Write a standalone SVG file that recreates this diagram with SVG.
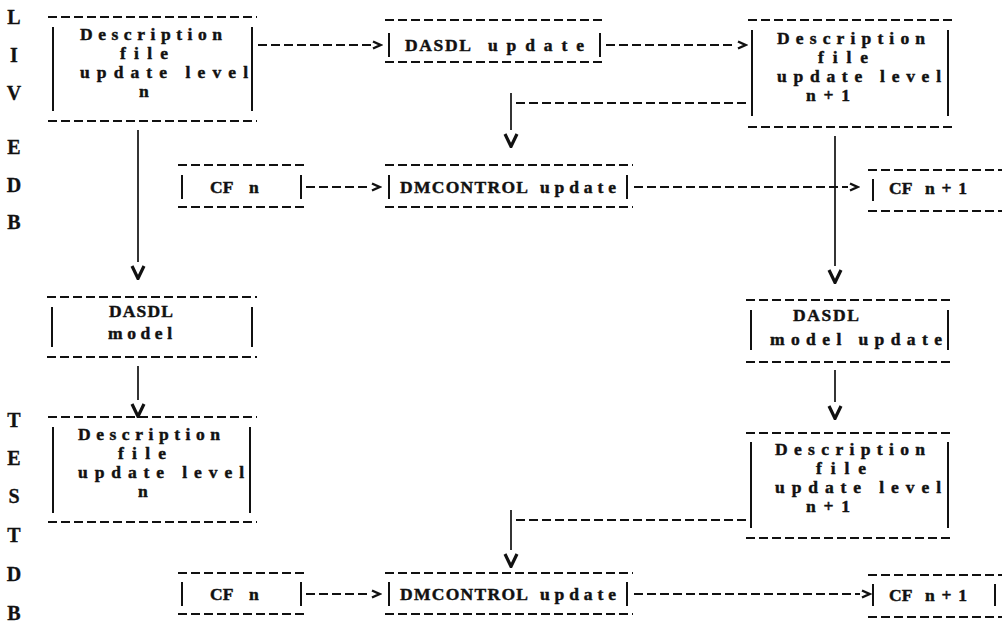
<svg xmlns="http://www.w3.org/2000/svg" width="1002" height="635" viewBox="0 0 1002 635">
  <style>
    .t { font-family: "Liberation Serif", "Times New Roman", serif; font-weight: bold; font-size: 17.5px; fill: #111; stroke: #111; stroke-width: 0.45; }
    .side { font-family: "Liberation Serif", "Times New Roman", serif; font-weight: bold; font-size: 20px; fill: #111; stroke: #111; stroke-width: 0.3; text-anchor: middle; }
    .edge { stroke: #111; stroke-width: 1.8; stroke-dasharray: 9 4; fill: none; }
    .bar { stroke: #111; stroke-width: 2; fill: none; }
    .flow { stroke: #111; stroke-width: 1.8; stroke-dasharray: 9 4; fill: none; marker-end: url(#gt); }
    .drop { stroke: #111; stroke-width: 1.7; fill: none; marker-end: url(#vee); }
    .link { stroke: #111; stroke-width: 1.8; stroke-dasharray: 9 4; fill: none; }
  </style>
  <defs>
    <!-- open chevron used at the end of dashed flows -->
    <marker id="gt" markerUnits="userSpaceOnUse" markerWidth="12" markerHeight="12" viewBox="0 0 12 12" refX="0" refY="6" orient="0">
      <path d="M2,2.5 L9.5,6 L2,9.5" stroke="#111" stroke-width="2.4" fill="none"/>
    </marker>
    <!-- bold downward head placed just below a vertical drop -->
    <marker id="vee" markerUnits="userSpaceOnUse" markerWidth="16" markerHeight="18" viewBox="0 0 16 18" refX="8" refY="0" orient="0">
      <path d="M2,4 L8,16.5 L14,4" stroke="#111" stroke-width="3.2" fill="none"/>
    </marker>
  </defs>
  <rect width="1002" height="635" fill="#fff"/>

  <!-- side labels -->
  <g id="label-live-db">
    <text class="side" x="14" y="24">L</text>
    <text class="side" x="14" y="62">I</text>
    <text class="side" x="14" y="100">V</text>
    <text class="side" x="14" y="154">E</text>
    <text class="side" x="14" y="192">D</text>
    <text class="side" x="14" y="229">B</text>
  </g>
  <g id="label-test-db">
    <text class="side" x="14" y="427">T</text>
    <text class="side" x="14" y="465">E</text>
    <text class="side" x="14" y="503">S</text>
    <text class="side" x="14" y="542">T</text>
    <text class="side" x="14" y="581">D</text>
    <text class="side" x="14" y="620">B</text>
  </g>

  <!-- connectors -->
  <g id="connectors">
    <path class="flow" d="M258,45 H371"/>
    <path class="flow" d="M606,45 H736"/>
    <path class="link" d="M746,103 H516"/>
    <path class="drop" d="M511,93 V130"/>
    <path class="drop" d="M138,130 V262"/>
    <path class="flow" d="M306,187 H370"/>
    <path class="flow" d="M634,187 H848"/>
    <path class="drop" d="M835,136 V266"/>
    <path class="drop" d="M138,366 V400"/>
    <path class="drop" d="M835,370 V402"/>
    <path class="link" d="M746,520 H516"/>
    <path class="drop" d="M511,510 V550"/>
    <path class="flow" d="M306,594 H370"/>
    <path class="flow" d="M634,594 H860"/>
  </g>

  <!-- LIVE DB: description file level n -->
  <g id="live-desc-n">
    <line class="edge" x1="48" y1="17" x2="257" y2="17"/>
    <line class="edge" x1="48" y1="121" x2="257" y2="121"/>
    <line class="bar" x1="53" y1="27" x2="53" y2="111"/>
    <line class="bar" x1="252" y1="27" x2="252" y2="111"/>
    <text class="t" x="80" y="40" textLength="142" lengthAdjust="spacing">Description</text>
    <text class="t" x="120" y="59" textLength="48" lengthAdjust="spacing">file</text>
    <text class="t" x="80" y="78" textLength="168" lengthAdjust="spacing">update level</text>
    <text class="t" x="139" y="97">n</text>
  </g>

  <!-- LIVE DB: DASDL update -->
  <g id="live-dasdl-update">
    <line class="edge" x1="385" y1="20" x2="605" y2="20"/>
    <line class="edge" x1="385" y1="62" x2="605" y2="62"/>
    <line class="bar" x1="389" y1="33" x2="389" y2="57"/>
    <line class="bar" x1="600" y1="33" x2="600" y2="57"/>
    <text class="t" x="405" y="51" textLength="66" lengthAdjust="spacing">DASDL</text>
    <text class="t" x="488" y="51" textLength="96" lengthAdjust="spacing">update</text>
  </g>

  <!-- LIVE DB: description file level n+1 -->
  <g id="live-desc-n1">
    <line class="edge" x1="748" y1="20" x2="953" y2="20"/>
    <line class="edge" x1="748" y1="127" x2="953" y2="127"/>
    <line class="bar" x1="752" y1="30" x2="752" y2="116"/>
    <line class="bar" x1="948" y1="30" x2="948" y2="116"/>
    <text class="t" x="777" y="44" textLength="148" lengthAdjust="spacing">Description</text>
    <text class="t" x="818" y="63" textLength="50" lengthAdjust="spacing">file</text>
    <text class="t" x="777" y="82" textLength="164" lengthAdjust="spacing">update level</text>
    <text class="t" x="806" y="101" textLength="44" lengthAdjust="spacing">n+1</text>
  </g>

  <!-- LIVE DB: CF n -->
  <g id="live-cf-n">
    <line class="edge" x1="178" y1="165" x2="306" y2="165"/>
    <line class="edge" x1="178" y1="207" x2="306" y2="207"/>
    <line class="bar" x1="182" y1="175" x2="182" y2="199"/>
    <line class="bar" x1="301" y1="175" x2="301" y2="199"/>
    <text class="t" x="210" y="193">CF</text>
    <text class="t" x="249" y="193">n</text>
  </g>

  <!-- LIVE DB: DMCONTROL update -->
  <g id="live-dmcontrol">
    <line class="edge" x1="385" y1="165" x2="633" y2="165"/>
    <line class="edge" x1="385" y1="207" x2="633" y2="207"/>
    <line class="bar" x1="389" y1="175" x2="389" y2="199"/>
    <line class="bar" x1="627" y1="175" x2="627" y2="199"/>
    <text class="t" x="400" y="193" textLength="128" lengthAdjust="spacing">DMCONTROL</text>
    <text class="t" x="540" y="193" textLength="76" lengthAdjust="spacing">update</text>
  </g>

  <!-- LIVE DB: CF n+1 -->
  <g id="live-cf-n1">
    <line class="edge" x1="868" y1="170" x2="1002" y2="170"/>
    <line class="edge" x1="868" y1="211" x2="1002" y2="211"/>
    <line class="bar" x1="873" y1="179" x2="873" y2="201"/>
    <text class="t" x="889" y="194">CF</text>
    <text class="t" x="925" y="194" textLength="42" lengthAdjust="spacing">n+1</text>
  </g>

  <!-- DASDL model -->
  <g id="dasdl-model">
    <line class="edge" x1="47" y1="297" x2="257" y2="297"/>
    <line class="edge" x1="47" y1="357" x2="257" y2="357"/>
    <line class="bar" x1="52" y1="307" x2="52" y2="347"/>
    <line class="bar" x1="252" y1="307" x2="252" y2="347"/>
    <text class="t" x="109" y="317" textLength="64" lengthAdjust="spacing">DASDL</text>
    <text class="t" x="108" y="339" textLength="64" lengthAdjust="spacing">model</text>
  </g>

  <!-- DASDL model update -->
  <g id="dasdl-model-update">
    <line class="edge" x1="746" y1="300" x2="953" y2="300"/>
    <line class="edge" x1="746" y1="362" x2="953" y2="362"/>
    <line class="bar" x1="751" y1="310" x2="751" y2="350"/>
    <line class="bar" x1="948" y1="310" x2="948" y2="350"/>
    <text class="t" x="793" y="321" textLength="66" lengthAdjust="spacing">DASDL</text>
    <text class="t" x="770" y="345" textLength="172" lengthAdjust="spacing">model update</text>
  </g>

  <!-- TEST DB: description file level n -->
  <g id="test-desc-n">
    <line class="edge" x1="48" y1="417" x2="257" y2="417"/>
    <line class="edge" x1="48" y1="522" x2="257" y2="522"/>
    <line class="bar" x1="53" y1="427" x2="53" y2="513"/>
    <line class="bar" x1="250" y1="427" x2="250" y2="513"/>
    <text class="t" x="78" y="440" textLength="142" lengthAdjust="spacing">Description</text>
    <text class="t" x="118" y="459" textLength="48" lengthAdjust="spacing">file</text>
    <text class="t" x="78" y="478" textLength="166" lengthAdjust="spacing">update level</text>
    <text class="t" x="138" y="497">n</text>
  </g>

  <!-- TEST DB: description file level n+1 -->
  <g id="test-desc-n1">
    <line class="edge" x1="746" y1="433" x2="953" y2="433"/>
    <line class="edge" x1="746" y1="538" x2="953" y2="538"/>
    <line class="bar" x1="751" y1="442" x2="751" y2="528"/>
    <line class="bar" x1="948" y1="442" x2="948" y2="528"/>
    <text class="t" x="775" y="455" textLength="150" lengthAdjust="spacing">Description</text>
    <text class="t" x="816" y="474" textLength="50" lengthAdjust="spacing">file</text>
    <text class="t" x="775" y="493" textLength="166" lengthAdjust="spacing">update level</text>
    <text class="t" x="806" y="512" textLength="44" lengthAdjust="spacing">n+1</text>
  </g>

  <!-- TEST DB: CF n -->
  <g id="test-cf-n">
    <line class="edge" x1="178" y1="573" x2="306" y2="573"/>
    <line class="edge" x1="178" y1="614" x2="306" y2="614"/>
    <line class="bar" x1="182" y1="582" x2="182" y2="606"/>
    <line class="bar" x1="301" y1="582" x2="301" y2="606"/>
    <text class="t" x="210" y="600">CF</text>
    <text class="t" x="249" y="600">n</text>
  </g>

  <!-- TEST DB: DMCONTROL update -->
  <g id="test-dmcontrol">
    <line class="edge" x1="385" y1="573" x2="633" y2="573"/>
    <line class="edge" x1="385" y1="614" x2="633" y2="614"/>
    <line class="bar" x1="389" y1="582" x2="389" y2="606"/>
    <line class="bar" x1="627" y1="582" x2="627" y2="606"/>
    <text class="t" x="400" y="600" textLength="128" lengthAdjust="spacing">DMCONTROL</text>
    <text class="t" x="540" y="600" textLength="76" lengthAdjust="spacing">update</text>
  </g>

  <!-- TEST DB: CF n+1 -->
  <g id="test-cf-n1">
    <line class="edge" x1="868" y1="575" x2="1002" y2="575"/>
    <line class="edge" x1="868" y1="617" x2="1002" y2="617"/>
    <line class="bar" x1="873" y1="584" x2="873" y2="606"/>
    <line class="bar" x1="995" y1="584" x2="995" y2="606"/>
    <text class="t" x="889" y="601">CF</text>
    <text class="t" x="925" y="601" textLength="42" lengthAdjust="spacing">n+1</text>
  </g>
</svg>
